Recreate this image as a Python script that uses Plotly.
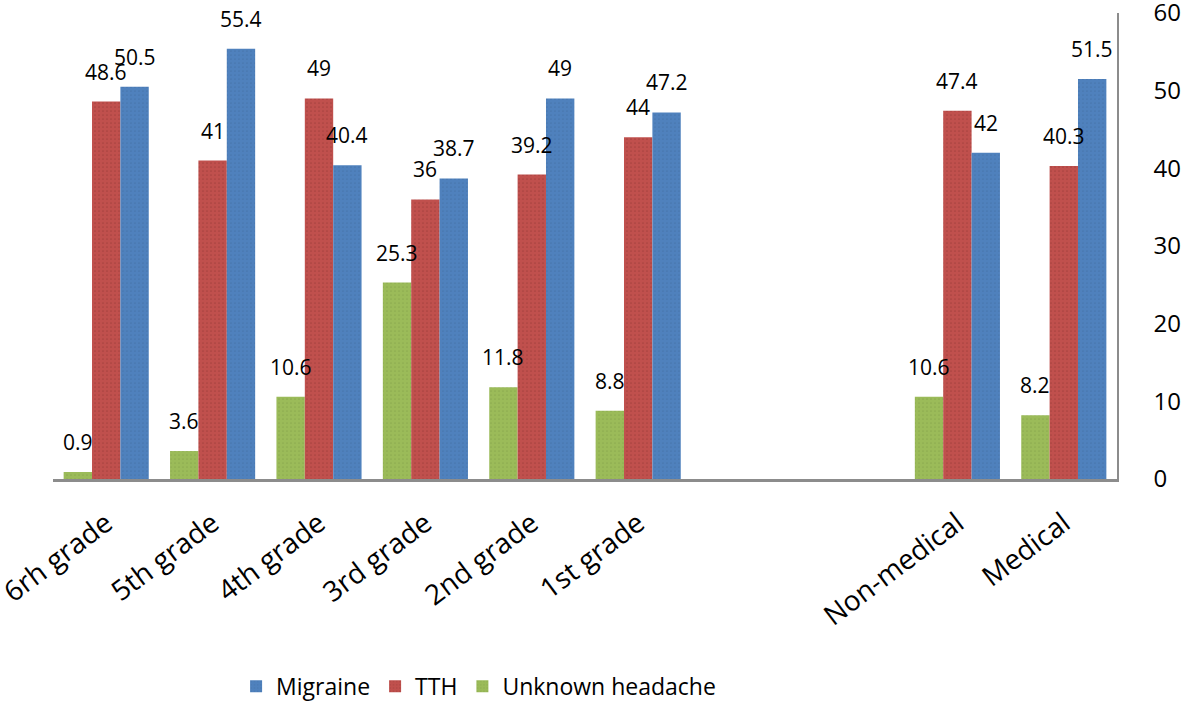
import plotly.graph_objects as go

categories = ["6rh grade", "5th grade", "4th grade", "3rd grade", "2nd grade", "1st grade", "", "", "Non-medical", "Medical"]
unknown = [0.9, 3.6, 10.6, 25.3, 11.8, 8.8, None, None, 10.6, 8.2]
tth = [48.6, 41, 49, 36, 39.2, 44, None, None, 47.4, 40.3]
migraine = [50.5, 55.4, 40.4, 38.7, 49, 47.2, None, None, 42, 51.5]

FONT = "Open Sans"
BARGAP = 0.2
x = list(range(len(categories)))

fig = go.Figure()
series = [
    ("Unknown headache", unknown, "#9BBB59", "#7E9C45"),
    ("TTH", tth, "#C0504D", "#8E3533"),
    ("Migraine", migraine, "#4F81BD", "#3F6A9E"),
]
n = len(series)
bw = (1 - BARGAP) / n
for k, (name, vals, col, dark) in enumerate(series):
    fig.add_trace(go.Bar(
        x=x, y=vals, name=name,
        marker=dict(color=col, line=dict(width=0),
                    pattern=dict(shape=".", fgcolor=dark, bgcolor=col, size=4, solidity=0.15)),
    ))
    # value labels drawn on top of all bars (as in the reference)
    off = (k - (n - 1) / 2) * bw
    for i, v in zip(x, vals):
        if v is None:
            continue
        fig.add_annotation(x=i + off, y=v, xref="x", yref="y", text=f"{v:g}",
                           showarrow=False, yanchor="bottom", yshift=14,
                           font=dict(family=FONT, size=21, color="black"))

fig.update_layout(
    width=1181, height=702,
    margin=dict(l=53, r=64, t=13, b=223, autoexpand=False),
    paper_bgcolor="white", plot_bgcolor="white",
    barmode="group", bargap=BARGAP, bargroupgap=0,
    font=dict(family=FONT, color="black"),
    showlegend=True,
    legend=dict(orientation="h", x=0.40, xanchor="center", y=-0.445, yanchor="middle",
                traceorder="reversed", font=dict(family=FONT, size=23, color="black"),
                itemwidth=30),
)
fig.update_xaxes(
    tickmode="array", tickvals=x, ticktext=categories, range=[-0.5, 9.5],
    tickangle=-37, tickfont=dict(family=FONT, size=28, color="black"),
    showline=True, linecolor="#8C8C8C", linewidth=3, ticks="", showgrid=False, zeroline=False,
    ticklabelstandoff=14, automargin=False, ticklabeloverflow="allow",
)
fig.update_yaxes(
    side="right", range=[0, 60], dtick=10, showgrid=False, zeroline=False,
    showline=True, linecolor="#8C8C8C", linewidth=1.5, ticks="",
    tickfont=dict(family=FONT, size=24, color="black"), ticklabelstandoff=30, automargin=False,
    ticklabeloverflow="allow",
)
fig.write_html("out.html", config={"displayModeBar": False},
               post_script="document.body.style.margin='0';document.body.style.overflow='hidden';")
